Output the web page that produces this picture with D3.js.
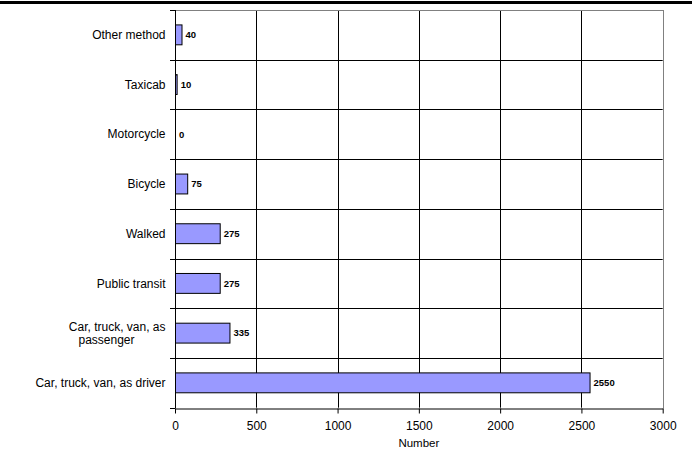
<!DOCTYPE html>
<html>
<head>
<meta charset="utf-8">
<script src="https://cdn.jsdelivr.net/npm/d3@7"></script>
<style>
html,body{margin:0;padding:0;background:#fff;}
svg{display:block;}
svg text{font-family:"Liberation Sans",Arial,sans-serif;}
</style>
</head>
<body>
<svg id="chart" width="692" height="451"></svg>
<script>
const categories = ["Other method","Taxicab","Motorcycle","Bicycle","Walked","Public transit","Car, truck, van, as passenger","Car, truck, van, as driver"];
const categoryLines = [["Other method"],["Taxicab"],["Motorcycle"],["Bicycle"],["Walked"],["Public transit"],["Car, truck, van, as","passenger"],["Car, truck, van, as driver"]];
const values = [40,10,0,75,275,275,335,2550];
const xTicks = [0,500,1000,1500,2000,2500,3000];
const xTitle = "Number";

const svg = d3.select("#chart");
const pLeft = 175, pRight = 662.7, pTop = 10, pBottom = 407.7;

const x = d3.scaleLinear().domain([0,3000]).range([pLeft,pRight]);
const y = d3.scaleBand().domain(categories).range([pTop,pBottom]).paddingInner(0.6).paddingOuter(0.3);
const step = y.step();

// header rule
svg.append("rect").attr("x",0).attr("y",1).attr("width",692).attr("height",3).attr("fill","#000");

// vertical gridlines
svg.append("g").selectAll("line").data(xTicks.filter(t=>t>0 && t<3000)).join("line")
  .attr("x1",d=>Math.round(x(d))+0.5).attr("x2",d=>Math.round(x(d))+0.5)
  .attr("y1",pTop).attr("y2",pBottom).attr("stroke","#000").attr("stroke-width",1);

// horizontal gridlines at category boundaries
const bounds = d3.range(categories.length).map(i=>pTop+i*step);
svg.append("g").selectAll("line").data(bounds.slice(1)).join("line")
  .attr("x1",pLeft).attr("x2",pRight)
  .attr("y1",d=>Math.round(d)+0.5).attr("y2",d=>Math.round(d)+0.5)
  .attr("stroke","#000").attr("stroke-width",1);

// plot border top/right (gray)
svg.append("line").attr("x1",pLeft).attr("x2",Math.round(pRight)+0.5).attr("y1",pTop+0.5).attr("y2",pTop+0.5).attr("stroke","#808080");
svg.append("line").attr("x1",Math.round(pRight)+0.5).attr("x2",Math.round(pRight)+0.5).attr("y1",pTop).attr("y2",Math.round(pBottom)+0.5).attr("stroke","#808080");

// bars
svg.append("g").selectAll("rect").data(values).join("rect")
  .attr("x",x(0)+0.5)
  .attr("y",(d,i)=>y(categories[i]))
  .attr("width",d=>Math.max(0,x(d)-x(0)))
  .attr("height",y.bandwidth())
  .attr("fill","#9999FF")
  .attr("stroke",d=>d>0?"#000":"none").attr("stroke-width",1);

// value labels
svg.append("g").selectAll("text").data(values).join("text")
  .attr("x",d=>x(d)+4)
  .attr("y",(d,i)=>y(categories[i])+y.bandwidth()/2)
  .attr("dy","0.35em")
  .attr("font-size","9.5px").attr("font-weight","bold")
  .text(d=>d);

// y axis
const yAxis = svg.append("g");
yAxis.append("line").attr("x1",pLeft+0.5).attr("x2",pLeft+0.5).attr("y1",pTop).attr("y2",Math.round(pBottom)+0.5).attr("stroke","#000");
yAxis.selectAll("line.tk").data(bounds.concat([pTop+categories.length*step])).join("line").attr("class","tk")
  .attr("x1",pLeft-5).attr("x2",pLeft)
  .attr("y1",d=>Math.round(d)+0.5).attr("y2",d=>Math.round(d)+0.5).attr("stroke","#000");

// category labels
const cl = svg.append("g").attr("font-size","12px").attr("fill","#000");
categoryLines.forEach((lines,i)=>{
  const cy = y(categories[i]) + y.bandwidth()/2;
  const lh = 13.5;
  lines.forEach((ln,j)=>{
    const yy = cy + (j-(lines.length-1)/2)*lh;
    const t = cl.append("text").attr("y",yy).attr("dy","0.35em").text(ln);
    if (lines.length>1 && j>0) { t.attr("x",pLeft-68.5).attr("text-anchor","middle"); }
    else { t.attr("x",pLeft-9.5).attr("text-anchor","end"); }
  });
});

// x axis
const xg = svg.append("g").attr("transform",`translate(0,${Math.round(pBottom)+0.5})`)
  .call(d3.axisBottom(x).tickValues(xTicks).tickFormat(d3.format("d")).tickSize(5).tickSizeOuter(0).tickPadding(8));
xg.attr("font-family",null).attr("font-size",null);
xg.select(".domain").attr("stroke","#000");
xg.selectAll(".tick line").attr("stroke","#000");
xg.selectAll(".tick text").attr("font-size","12px").attr("fill","#000");

svg.append("text").attr("x",(pLeft+pRight)/2).attr("y",443).attr("dy","0.35em")
  .attr("text-anchor","middle").attr("font-size","11.5px").text(xTitle);
</script>
</body>
</html>
